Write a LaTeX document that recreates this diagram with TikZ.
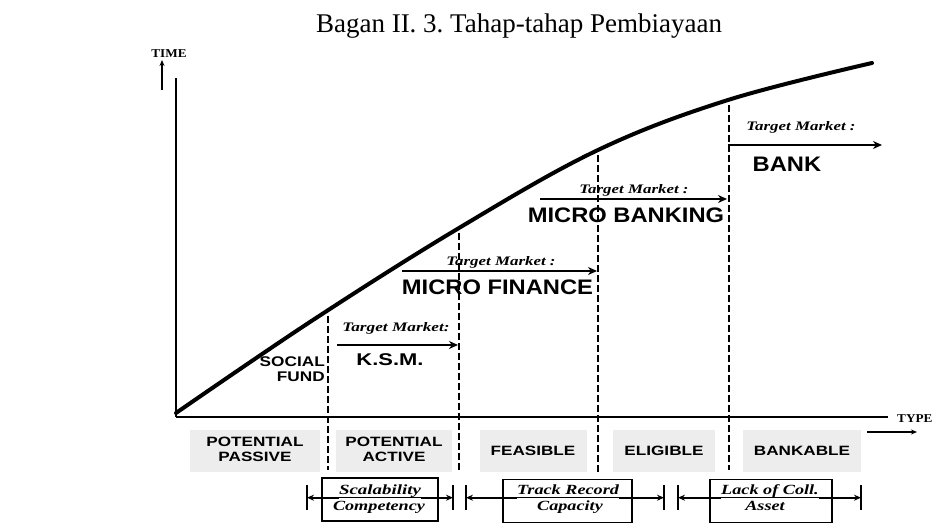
\documentclass[tikz,border=0pt]{standalone}
\usepackage{graphicx}
\usepackage{fontspec}
\setmainfont{Liberation Serif}
\newfontfamily\lsans{Liberation Sans}
\usetikzlibrary{arrows.meta}
\newcommand{\hs}[2]{\scalebox{#1}[1]{#2}}
\frenchspacing
\begin{document}
\begin{tikzpicture}[x=1pt,y=-1pt,
  axisline/.style={line width=2.2pt},
  curveline/.style={line width=4pt, line cap=round},
  divline/.style={line width=2.2pt, dash pattern=on 7pt off 3pt},
  tarrow/.style={line width=2.8pt, -{Stealth[length=9pt,width=8pt]}},
  smallarrow/.style={line width=1.4pt, -{Stealth[length=6pt,width=5pt]}},
  catbox/.style={fill=black!7, inner sep=0pt, minimum height=42pt, font=\lsans\bfseries\fontsize{13.5}{15}\selectfont},
  framebox/.style={draw, line width=1.3pt, minimum height=43pt, inner sep=0pt},
  boxtxt/.style={font=\bfseries\itshape\fontsize{14}{16}\selectfont, inner sep=0pt, text depth=3pt, anchor=base},
  tmtxt/.style={font=\bfseries\itshape\fontsize{13}{15}\selectfont, inner sep=0pt, anchor=base},
  bigsans/.style={font=\lsans\bfseries\fontsize{21}{24}\selectfont, inner sep=0pt, anchor=base},
  axislabel/.style={font=\bfseries\fontsize{12}{14}\selectfont, inner sep=0pt},
  barline/.style={line width=1.3pt},
  barrow/.style={line width=2.2pt, -{Stealth[length=7pt,width=6pt]}},
  uline/.style={line width=1.1pt}
]
\useasboundingbox (0,0) rectangle (935,529);

% title
\node[font=\fontsize{27}{30}\selectfont, inner sep=0pt, anchor=base] (title) at (519,33) {Bagan II. 3. Tahap-tahap Pembiayaan};

% axes
\coordinate (O) at (176,417);
\coordinate (Ytop) at (176,78);
\coordinate (Xend) at (888,417);
\draw[axisline] (O) -- (Ytop);
\draw[axisline] (O) -- (Xend);
\node[axislabel, anchor=base] (timelbl) at (169,57.5) {\hs{1.1}{TIME}};
\coordinate (ta1) at (162,90);
\coordinate (ta2) at (162,60);
\draw[smallarrow] (ta1) -- (ta2);
\node[axislabel, anchor=base west] (typelbl) at (897,422) {\hs{1.1}{TYPE}};
\coordinate (ty1) at (867,432);
\coordinate (ty2) at (917,432);
\draw[smallarrow] (ty1) -- (ty2);

% category boxes
\node[catbox, minimum width=130pt] (pp) at (255,451) {\hs{1.27}{\begin{tabular}{@{}c@{}}POTENTIAL\\PASSIVE\end{tabular}}};
\node[catbox, minimum width=116pt] (pa) at (394,451) {\hs{1.27}{\begin{tabular}{@{}c@{}}POTENTIAL\\ACTIVE\end{tabular}}};
\node[catbox, minimum width=107pt] (fe) at (533,451) {\hs{1.27}{FEASIBLE}};
\node[catbox, minimum width=102pt] (el) at (664,451) {\hs{1.27}{ELIGIBLE}};
\node[catbox, minimum width=118pt] (bk) at (802,451) {\hs{1.27}{BANKABLE}};

% growth curve
\draw[curveline] plot[smooth, tension=0.6] coordinates {(176,413) (313,320) (459,228) (598,150) (728,100) (872,63)};

% dashed dividers
\coordinate (d1t) at (328,316); \coordinate (d1b) at (328,470);
\coordinate (d2t) at (459,233); \coordinate (d2b) at (459,470);
\coordinate (d3t) at (598,155); \coordinate (d3b) at (598,472);
\coordinate (d4t) at (729,105); \coordinate (d4b) at (729,470);
\draw[divline] (d1t) -- (d1b);
\draw[divline] (d2t) -- (d2b);
\draw[divline] (d3t) -- (d3b);
\draw[divline, line width=1.6pt] (d4t) -- (d4b);

% target markets
\coordinate (a1s) at (337,345); \coordinate (a1e) at (458,345);
\coordinate (a2s) at (402,271); \coordinate (a2e) at (597,271);
\coordinate (a3s) at (540,199); \coordinate (a3e) at (727,199);
\coordinate (a4s) at (728,145); \coordinate (a4e) at (882,145);
\draw[tarrow] (a1s) -- (a1e);
\draw[tarrow] (a2s) -- (a2e);
\draw[tarrow] (a3s) -- (a3e);
\draw[tarrow] (a4s) -- (a4e);
\node[tmtxt] (tm1) at (396,332) {\hs{1.33}{Target Market:}};
\node[tmtxt] (tm2) at (501,266) {\hs{1.3}{Target Market :}};
\node[tmtxt] (tm3) at (634,194) {\hs{1.3}{Target Market :}};
\node[tmtxt] (tm4) at (801,131) {\hs{1.3}{Target Market :}};
\node[bigsans, font=\lsans\bfseries\fontsize{17}{20}\selectfont] (ksm) at (390,366) {\hs{1.29}{K.S.M.}};
\node[bigsans] (mf) at (497.5,295) {\hs{1.13}{MICRO FINANCE}};
\node[bigsans] (mb) at (626,223) {\hs{1.13}{MICRO BANKING}};
\node[bigsans] (bank) at (787,172) {\hs{1.13}{BANK}};
\node[font=\lsans\bfseries\fontsize{14}{15}\selectfont, inner sep=0pt, anchor=base east] (sf) at (325,367) {\hs{1.23}{\begin{tabular}[t]{@{}r@{}}SOCIAL\\FUND\end{tabular}}};

% bottom brackets
\coordinate (l1t) at (307,485); \coordinate (l1b) at (307,510);
\coordinate (r1t) at (453,485); \coordinate (r1b) at (453,510);
\coordinate (l2t) at (466,485); \coordinate (l2b) at (466,510);
\coordinate (r2t) at (664,485); \coordinate (r2b) at (664,510);
\coordinate (l3t) at (678,485); \coordinate (l3b) at (678,510);
\coordinate (r3t) at (861,485); \coordinate (r3b) at (861,510);
\foreach \b in {l1,r1,l2,r2,l3,r3} {\draw[barline] (\b t) -- (\b b);}

\node[framebox, minimum width=116pt] (b1) at (380,499.5) {};
\node[framebox, minimum width=129pt] (b2) at (567.5,501) {};
\node[framebox, minimum width=122pt] (b3) at (771,501) {};

\node[boxtxt] (s1) at (380,494.5) {\hs{1.35}{Scalability}};
\node[boxtxt] (c1) at (379,510) {\hs{1.3}{Competency}};
\node[boxtxt] (s2) at (568,494.5) {\hs{1.3}{Track Record}};
\node[boxtxt] (c2) at (570,510) {\hs{1.3}{Capacity}};
\node[boxtxt] (s3) at (770,494.5) {\hs{1.3}{Lack of Coll.}};
\node[boxtxt] (c3) at (765,510) {\hs{1.3}{Asset}};

\draw[uline] (s1.south west) -- (s1.south east);
\draw[uline] (s2.south west) -- (s2.south east);
\draw[uline] (s3.south west) -- (s3.south east);
\draw[barrow] (s1.south west) -- (s1.south west -| l1t);
\draw[barrow] (s1.south east) -- (s1.south east -| r1t);
\draw[barrow] (s2.south west) -- (s2.south west -| l2t);
\draw[barrow] (s2.south east) -- (s2.south east -| r2t);
\draw[barrow] (s3.south west) -- (s3.south west -| l3t);
\draw[barrow] (s3.south east) -- (s3.south east -| r3t);
\end{tikzpicture}
\end{document}
